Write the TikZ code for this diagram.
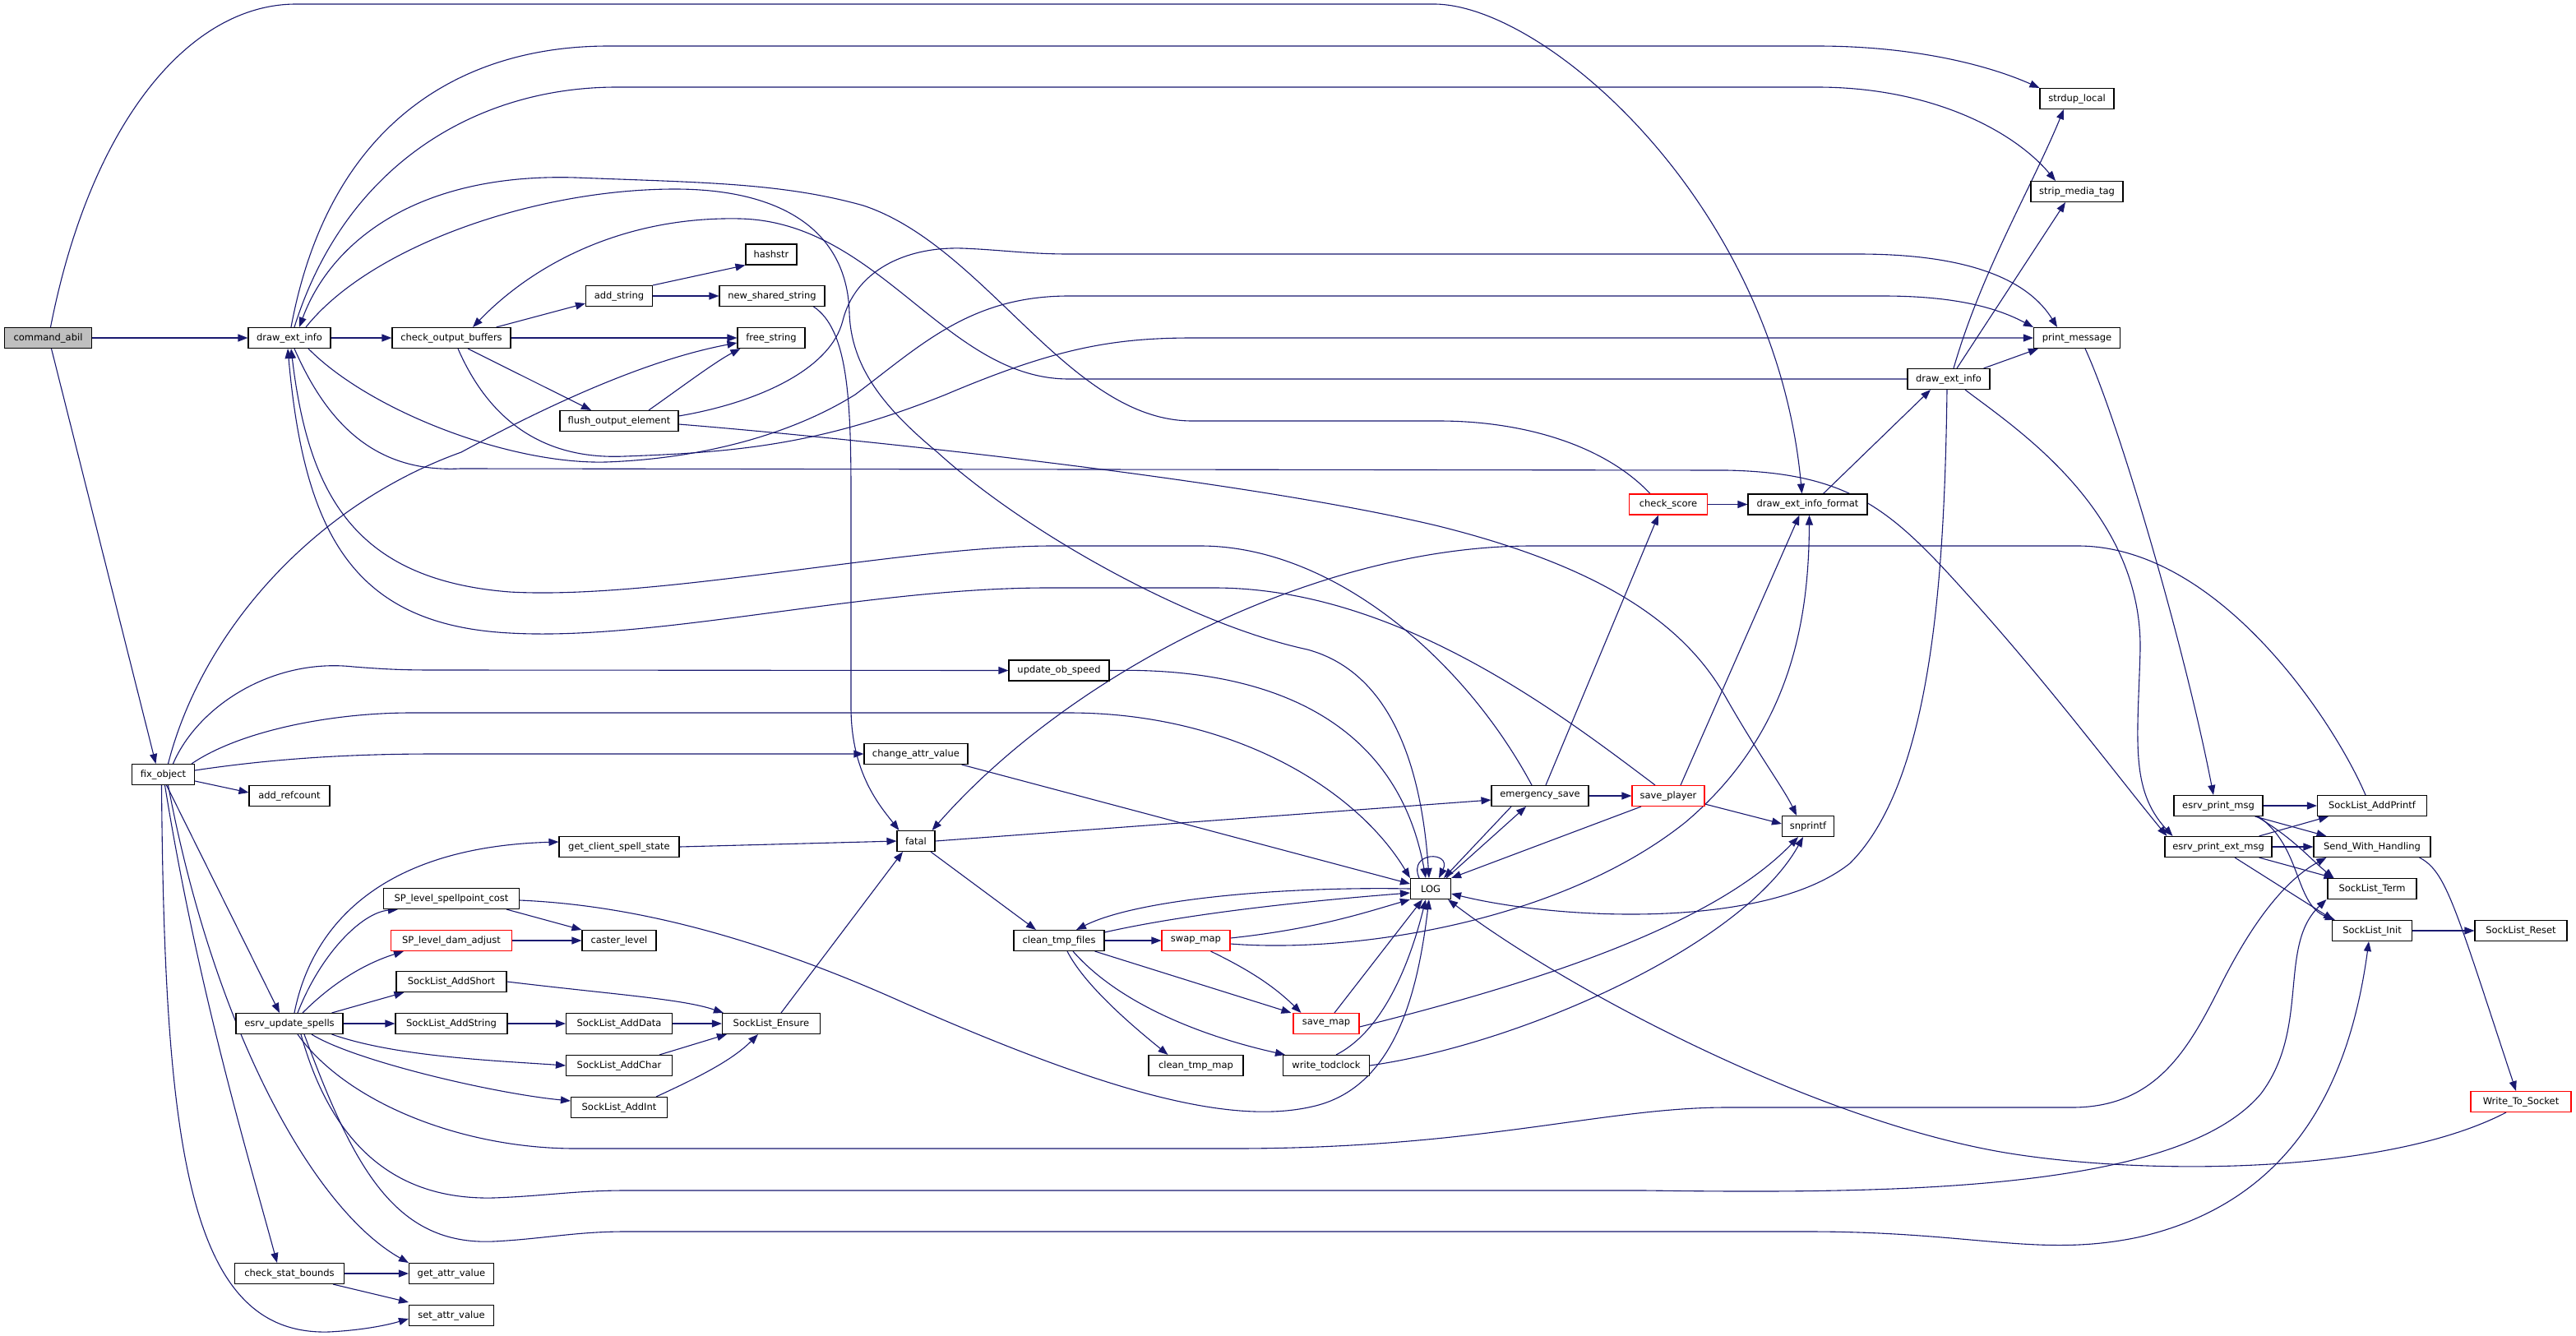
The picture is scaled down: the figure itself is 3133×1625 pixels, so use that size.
\documentclass[tikz,border=0pt]{standalone}
\usepackage{fontspec}
\setmainfont{DejaVu Sans}
\usetikzlibrary{arrows.meta}
\definecolor{edgec}{HTML}{191970}
\definecolor{cagrey}{HTML}{BFBFBF}
\pgfdeclarelayer{bg}
\pgfsetlayers{bg,main}
\tikzset{
  edg/.style={draw=edgec, line width=1.1pt, -{Triangle[length=12pt,width=9pt]}},
  nd/.style={draw=black, line width=1.1pt, fill=white, minimum height=25pt, inner sep=0pt, font=\fontsize{11.5}{13}\selectfont},
  nr/.style={nd, draw=red}
}
\begin{document}
\begin{tikzpicture}[x=1pt,y=-1pt]
\useasboundingbox (0,0) rectangle (3133,1625);
% nodes
\node[nd, fill=cagrey, minimum width=106pt] (ca) at (58.5,411) {command\_abil};
\node[nd, minimum width=100pt] (dei) at (352,411) {draw\_ext\_info};
\node[nd, minimum width=144pt] (cob) at (549,411) {check\_output\_buffers};
\node[nd, minimum width=81pt] (as) at (753,360) {add\_string};
\node[nd, minimum width=62pt] (hs) at (938,309.5) {hashstr};
\node[nd, minimum width=128pt] (nss) at (939,360) {new\_shared\_string};
\node[nd, minimum width=82pt] (fs) at (938,411) {free\_string};
\node[nd, minimum width=144pt] (foe) at (753,512) {flush\_output\_element};
\node[nd, minimum width=90pt] (sdl) at (2526,120) {strdup\_local};
\node[nd, minimum width=112pt] (smt) at (2526,233) {strip\_media\_tag};
\node[nd, minimum width=105pt] (pm) at (2526,411) {print\_message};
\node[nd, minimum width=100pt] (dei2) at (2370,461) {draw\_ext\_info};
\node[nr, minimum width=95pt] (cs) at (2029,613.5) {check\_score};
\node[nd, minimum width=145pt] (deif) at (2198.5,613.5) {draw\_ext\_info\_format};
\node[nd, minimum width=122pt] (uos) at (1288,815.5) {update\_ob\_speed};
\node[nd, minimum width=126pt] (cav) at (1114,917) {change\_attr\_value};
\node[nd, minimum width=76pt] (fo) at (198.5,942) {fix\_object};
\node[nd, minimum width=98pt] (ar) at (352,968) {add\_refcount};
\node[nd, minimum width=118pt] (es) at (1873,968) {emergency\_save};
\node[nr, minimum width=88pt] (sp) at (2029,968) {save\_player};
\node[nd, minimum width=63pt] (snp) at (2199,1005) {snprintf};
\node[nd, minimum width=108pt] (epm) at (2698,980) {esrv\_print\_msg};
\node[nd, minimum width=133pt] (sap) at (2885,980) {SockList\_AddPrintf};
\node[nd, minimum width=46pt] (fat) at (1114,1023) {fatal};
\node[nd, minimum width=146pt] (gcss) at (753,1030) {get\_client\_spell\_state};
\node[nd, minimum width=130pt] (epem) at (2698,1030) {esrv\_print\_ext\_msg};
\node[nd, minimum width=142pt] (swh) at (2885,1030) {Send\_With\_Handling};
\node[nd, minimum width=49pt] (log) at (1740,1081) {LOG};
\node[nd, minimum width=108pt] (slt) at (2885,1081) {SockList\_Term};
\node[nd, minimum width=165pt] (spc) at (549,1093) {SP\_level\_spellpoint\_cost};
\node[nd, minimum width=97pt] (slinit) at (2885,1132) {SockList\_Init};
\node[nd, minimum width=112pt] (slr) at (3066,1132) {SockList\_Reset};
\node[nr, minimum width=147pt] (spd) at (549,1144) {SP\_level\_dam\_adjust};
\node[nd, minimum width=90pt] (cl) at (753,1144) {caster\_level};
\node[nd, minimum width=110pt] (ctf) at (1288,1144) {clean\_tmp\_files};
\node[nr, minimum width=83pt] (swm) at (1454.5,1144) {swap\_map};
\node[nd, minimum width=134pt] (sas) at (549,1194) {SockList\_AddShort};
\node[nd, minimum width=130pt] (eus) at (352,1245) {esrv\_update\_spells};
\node[nd, minimum width=136pt] (sast) at (549,1245) {SockList\_AddString};
\node[nd, minimum width=129pt] (sad) at (753,1245) {SockList\_AddData};
\node[nd, minimum width=119pt] (sle) at (938,1245) {SockList\_Ensure};
\node[nr, minimum width=80pt] (svm) at (1613,1245) {save\_map};
\node[nd, minimum width=129pt] (sac) at (753,1296) {SockList\_AddChar};
\node[nd, minimum width=115pt] (ctm) at (1454.5,1296) {clean\_tmp\_map};
\node[nd, minimum width=105pt] (wtc) at (1613,1296) {write\_todclock};
\node[nd, minimum width=117pt] (sai) at (753,1347) {SockList\_AddInt};
\node[nr, minimum width=122pt] (wts) at (3066,1340) {Write\_To\_Socket};
\node[nd, minimum width=133pt] (csb) at (352,1549) {check\_stat\_bounds};
\node[nd, minimum width=103pt] (gav) at (549,1549) {get\_attr\_value};
\node[nd, minimum width=103pt] (sav) at (549,1600) {set\_attr\_value};

\begin{pgfonlayer}{bg}
% command_abil
\draw[edg] (ca.east) -- (dei.west);
\draw[edg] ([xshift=4pt]ca.south) -- ([xshift=-9pt]fo.north);
\draw[edg] ([xshift=3pt]ca.north) .. controls (110,150) and (230,5) .. (360,5) -- (1744,5) .. controls (1880,5) and (2160,250) .. ([xshift=-7pt]deif.north);
% draw_ext_info (left)
\draw[edg] (dei.east) -- (cob.west);
\draw[edg] ([xshift=2pt]dei.north) .. controls (400,150) and (560,56) .. (740,56) -- (2210,56) .. controls (2330,56) and (2420,80) .. (sdl.north west);
\draw[edg] ([xshift=6pt]dei.north) .. controls (420,200) and (580,106) .. (750,106) -- (2210,106) .. controls (2350,106) and (2450,160) .. ([xshift=-26pt]smt.north);
\draw[edg] ([xshift=20pt]dei.north) .. controls (450,300) and (650,230) .. (821,230) .. controls (950,230) and (1030,280) .. (1033,380) .. controls (1035,450) and (1080,500) .. (1140,550) .. controls (1250,650) and (1450,760) .. (1590,790) .. controls (1700,820) and (1730,950) .. ([xshift=-2pt]log.north);
\draw[edg] ([xshift=23pt]dei.south) .. controls (450,500) and (620,565) .. (737,562) .. controls (850,558) and (960,530) .. (1040,480) .. controls (1120,420) and (1180,360) .. (1300,360) -- (2290,360) .. controls (2380,360) and (2430,375) .. (pm.north west);
\draw[edg] ([xshift=6pt]dei.south) .. controls (400,520) and (460,575) .. (560,570) -- (2100,572) .. controls (2250,575) and (2300,620) .. (2390,720) .. controls (2490,830) and (2580,950) .. ([xshift=3pt]epem.north west);
% check_output_buffers
\draw[edg] ([xshift=-18pt]cob.north east) -- ([yshift=4pt]as.south west);
\draw[edg] (cob.east) -- (fs.west);
\draw[edg] ([xshift=20pt]cob.south) -- ([xshift=-34pt]foe.north);
\draw[edg] ([xshift=8pt]cob.south) .. controls (590,500) and (650,560) .. (760,555) .. controls (900,550) and (1000,540) .. (1150,480) .. controls (1280,425) and (1350,411) .. (1450,411) -- (pm.west);
% add_string
\draw[edg] (as.north east) -- (hs.south west);
\draw[edg] (as.east) -- (nss.west);
\draw[edg] ([xshift=-14pt]nss.south east) .. controls (1030,400) and (1035,480) .. (1035,600) -- (1035,860) .. controls (1035,940) and (1070,980) .. ([xshift=3pt]fat.north west);
% flush_output_element
\draw[edg] ([xshift=36pt]foe.north) .. controls (830,470) and (870,440) .. ([xshift=4pt]fs.south west);
\draw[edg] ([yshift=6pt]foe.east) .. controls (920,490) and (1010,450) .. (1025,390) .. controls (1040,330) and (1100,300) .. (1170,302) .. controls (1220,304) and (1250,309) .. (1300,309) -- (2260,309) .. controls (2370,309) and (2460,330) .. ([xshift=-24pt]pm.north);
\draw[edg] ([yshift=-4pt]foe.east) .. controls (1000,530) and (1500,580) .. (1750,640) .. controls (1950,690) and (2050,760) .. (2100,850) .. controls (2140,920) and (2170,960) .. ([xshift=-14pt]snp.north);
% fix_object
\draw[edg] ([xshift=6pt]fo.north) .. controls (245,770) and (380,615) .. (561,550) .. controls (690,480) and (800,435) .. ([yshift=-6pt]fs.west);
\draw[edg] ([xshift=12pt]fo.north) .. controls (240,860) and (330,800) .. (430,811) .. controls (480,815) and (500,815) .. (540,815) -- (uos.west);
\draw[edg] ([xshift=-4pt]fo.north east) .. controls (290,890) and (400,867) .. (500,867) -- (1300,867) .. controls (1500,867) and (1650,960) .. (log.north west);
\draw[edg] ([yshift=5pt]fo.east) .. controls (350,920) and (450,917) .. (530,917) -- (cav.west);
\draw[edg] ([yshift=-8pt]fo.east) -- ([yshift=4pt]ar.west);
\draw[edg] ([xshift=4pt]fo.south) -- ([xshift=-12pt]eus.north);
\draw[edg] ([xshift=2pt]fo.south) .. controls (240,1200) and (300,1400) .. ([xshift=-15pt]csb.north);
\draw[edg] ([xshift=6pt]fo.south) .. controls (260,1250) and (380,1470) .. (gav.north west);
\draw[edg] ([xshift=-2pt]fo.south) .. controls (200,1400) and (230,1625) .. (400,1620) .. controls (440,1618) and (470,1612) .. ([yshift=-4pt]sav.west);
% draw_ext_info (right)
\draw[edg] ([xshift=20pt]dei2.south) .. controls (2450,520) and (2605,620) .. (2603,790) .. controls (2600,900) and (2590,960) .. ([xshift=10pt]epem.north west);
\draw[edg] ([xshift=-2pt]dei2.south) .. controls (2365,700) and (2350,950) .. (2250,1050) .. controls (2150,1130) and (1900,1120) .. ([yshift=-6pt]log.east);
\draw[edg] ([xshift=-8pt]dei2.north east) -- ([xshift=6pt]pm.south west);
\draw[edg] ([xshift=6pt]dei2.north) .. controls (2410,330) and (2470,230) .. ([xshift=-16pt]sdl.south);
\draw[edg] ([xshift=10pt]dei2.north) -- ([xshift=-14pt]smt.south);
\draw[edg] (dei2.west) -- (1300,461) .. controls (1150,461) and (1070,270) .. (900,266) .. controls (760,263) and (650,320) .. ([xshift=26pt]cob.north);
% check_score
\draw[edg] ([xshift=-22pt]cs.north) .. controls (1950,540) and (1850,512) .. (1750,512) -- (1450,512) .. controls (1300,512) and (1200,300) .. (1050,250) .. controls (950,222) and (850,222) .. (700,216) .. controls (500,210) and (400,300) .. ([xshift=12pt]dei.north);
\draw[edg] (cs.east) -- (deif.west);
% emergency_save
\draw[edg] ([xshift=-10pt]es.north) .. controls (1780,800) and (1620,664) .. (1460,664) -- (1280,664) .. controls (1100,664) and (800,730) .. (620,720) .. controls (430,705) and (375,600) .. ([xshift=2pt]dei.south);
\draw[edg] ([xshift=7pt]es.north) -- ([xshift=-12pt]cs.south);
\draw[edg] (es.east) -- (sp.west);
\draw[edg] ([xshift=-35pt]es.south) -- ([xshift=16pt]log.north);
\draw[edg] ([xshift=-6pt]log.north east) -- ([xshift=-17pt]es.south);
% save_player
\draw[edg] ([xshift=-16pt]sp.north) .. controls (1900,870) and (1700,715) .. (1477,715) -- (1274,715) .. controls (1050,715) and (800,780) .. (620,770) .. controls (430,760) and (370,650) .. ([xshift=-2pt]dei.south);
\draw[edg] ([xshift=-33pt]sp.south) -- (log.north east);
\draw[edg] ([xshift=15pt]sp.north) -- ([xshift=-10pt]deif.south);
\draw[edg] ([yshift=-10pt]sp.east) -- ([yshift=3pt]snp.west);
% draw_ext_info_format
\draw[edg] ([xshift=19pt]deif.north) -- ([xshift=-22pt]dei2.south);
% print_message
\draw[edg] ([xshift=10pt]pm.south) .. controls (2580,520) and (2660,800) .. ([xshift=-6pt]epm.north);
% esrv_print_msg
\draw[edg] (epm.east) -- (sap.west);
\draw[edg] ([xshift=-10pt]epm.south east) -- ([xshift=16pt]swh.north west);
\draw[edg] ([xshift=-8pt]epm.south east) .. controls (2790,1020) and (2810,1045) .. ([xshift=8pt]slt.north west);
\draw[edg] ([xshift=-6pt]epm.south east) .. controls (2800,1030) and (2790,1100) .. ([xshift=4pt]slinit.north west);
% esrv_print_ext_msg
\draw[edg] ([xshift=-16pt]epem.north east) -- ([xshift=14pt]sap.south west);
\draw[edg] (epem.east) -- (swh.west);
\draw[edg] ([xshift=-16pt]epem.south east) -- ([xshift=8pt]slt.north west);
\draw[edg] ([xshift=20pt]epem.south) -- ([xshift=2pt]slinit.north west);
% SockList_AddPrintf -> fatal
\draw[edg] ([xshift=-8pt]sap.north) .. controls (2840,880) and (2700,664) .. (2527,664) -- (1863,664) .. controls (1600,664) and (1300,820) .. ([xshift=-4pt]fat.north east);
% Send_With_Handling, SockList_Init, Write_To_Socket
\draw[edg] ([xshift=-14pt]swh.south east) .. controls (2975,1060) and (2985,1100) .. ([xshift=-6pt]wts.north);
\draw[edg] (slinit.east) -- (slr.west);
\draw[edg] ([xshift=-18pt]wts.south) .. controls (2900,1430) and (2600,1430) .. (2433,1401) .. controls (2200,1360) and (1900,1200) .. ([xshift=-4pt]log.south east);
% fatal
\draw[edg] (fat.east) -- ([yshift=-5pt]es.west);
\draw[edg] ([xshift=18pt]fat.south) -- ([xshift=-28pt]ctf.north);
\draw[edg] (gcss.east) -- (fat.west);
\draw[edg] ([xshift=12pt]sle.north) -- ([xshift=-16pt]fat.south);
% esrv_update_spells
\draw[edg] ([xshift=6pt]eus.north) .. controls (380,1120) and (470,1030) .. ([yshift=6pt]gcss.west);
\draw[edg] ([xshift=10pt]eus.north) .. controls (390,1160) and (440,1110) .. ([xshift=18pt]spc.south west);
\draw[edg] ([xshift=16pt]eus.north) .. controls (410,1190) and (450,1170) .. ([xshift=16pt]spd.south west);
\draw[edg] ([xshift=-14pt]eus.north east) -- ([xshift=10pt]sas.south west);
\draw[edg] (eus.east) -- (sast.west);
\draw[edg] ([xshift=-14pt]eus.south east) .. controls (480,1285) and (600,1290) .. (sac.west);
\draw[edg] ([xshift=27pt]eus.south) .. controls (430,1290) and (600,1330) .. ([yshift=8pt]sai.west);
\draw[edg] ([xshift=10pt]eus.south) .. controls (420,1340) and (560,1397) .. (700,1397) -- (1500,1397) .. controls (1800,1397) and (1950,1347) .. (2100,1347) -- (2520,1347) .. controls (2620,1347) and (2660,1280) .. (2700,1200) .. controls (2740,1120) and (2780,1070) .. ([xshift=16pt]swh.south west);
\draw[edg] ([xshift=14pt]eus.south) .. controls (400,1380) and (470,1460) .. (600,1457) .. controls (660,1455) and (700,1448) .. (760,1448) -- (2000,1448) .. controls (2300,1452) and (2650,1450) .. (2750,1330) .. controls (2810,1250) and (2770,1150) .. ([xshift=-1pt]slt.south west);
\draw[edg] ([xshift=18pt]eus.south) .. controls (430,1420) and (480,1515) .. (600,1510) .. controls (660,1507) and (700,1498) .. (760,1498) -- (2200,1498) .. controls (2400,1498) and (2480,1530) .. (2600,1505) .. controls (2800,1460) and (2860,1300) .. ([xshift=-4pt]slinit.south);
% spell / socklist helpers
\draw[edg] ([xshift=-16pt]spc.south east) -- (cl.north west);
\draw[edg] ([yshift=-2pt]spc.east) .. controls (750,1100) and (900,1130) .. (1100,1220) .. controls (1350,1330) and (1500,1370) .. (1600,1345) .. controls (1700,1320) and (1725,1200) .. ([xshift=-2pt]log.south);
\draw[edg] (spd.east) -- (cl.west);
\draw[edg] (sas.east) .. controls (750,1210) and (830,1215) .. ([xshift=2pt]sle.north west);
\draw[edg] (sast.east) -- (sad.west);
\draw[edg] (sad.east) -- (sle.west);
\draw[edg] ([xshift=-16pt]sac.north east) -- ([xshift=6pt]sle.south west);
\draw[edg] ([xshift=-14pt]sai.north east) .. controls (850,1310) and (890,1290) .. ([xshift=-16pt]sle.south);
\draw[edg] (csb.east) -- (gav.west);
\draw[edg] ([xshift=-14pt]csb.south east) -- ([yshift=3pt]sav.north west);
% clean_tmp_files
\draw[edg] (ctf.east) -- (swm.west);
\draw[edg] ([xshift=-12pt]ctf.south east) -- ([xshift=-2pt]svm.north west);
\draw[edg] ([xshift=10pt]ctf.south) .. controls (1320,1200) and (1380,1250) .. ([xshift=-34pt]ctm.north);
\draw[edg] ([xshift=17pt]ctf.south) .. controls (1360,1220) and (1460,1260) .. ([xshift=-50pt]wtc.north);
\draw[edg] ([yshift=-3pt]ctf.north east) .. controls (1450,1110) and (1600,1095) .. ([yshift=-5pt]log.west);
\draw[edg] (log.west) .. controls (1550,1078) and (1380,1095) .. ([xshift=21pt]ctf.north);
% swap_map
\draw[edg] ([xshift=18pt]swm.south) .. controls (1520,1180) and (1550,1200) .. ([xshift=10pt]svm.north west);
\draw[edg] ([yshift=3pt]swm.east) .. controls (1600,1130) and (1660,1110) .. (log.south west);
\draw[edg] ([yshift=-4pt]swm.east) .. controls (1650,1160) and (1900,1120) .. (2050,1000) .. controls (2180,890) and (2200,750) .. ([xshift=2pt]deif.south);
% save_map, write_todclock
\draw[edg] ([xshift=10pt]svm.north) -- ([xshift=-10pt]log.south);
\draw[edg] ([yshift=-4pt]svm.east) .. controls (1850,1200) and (2080,1130) .. ([xshift=-12pt]snp.south);
\draw[edg] (wtc.east) .. controls (1850,1270) and (2120,1150) .. ([xshift=-6pt]snp.south);
\draw[edg] ([xshift=12pt]wtc.north) .. controls (1690,1250) and (1720,1150) .. ([xshift=-6pt]log.south);
% LOG
\draw[edg] ([xshift=-14pt]log.north) .. controls (1712,1035) and (1766,1035) .. ([xshift=10pt]log.north);
\draw[edg] (uos.east) .. controls (1550,811) and (1700,880) .. ([xshift=-6pt]log.north);
\draw[edg] ([xshift=-8pt]cav.south east) -- ([yshift=6pt]log.west);
\end{pgfonlayer}
\end{tikzpicture}
\end{document}
